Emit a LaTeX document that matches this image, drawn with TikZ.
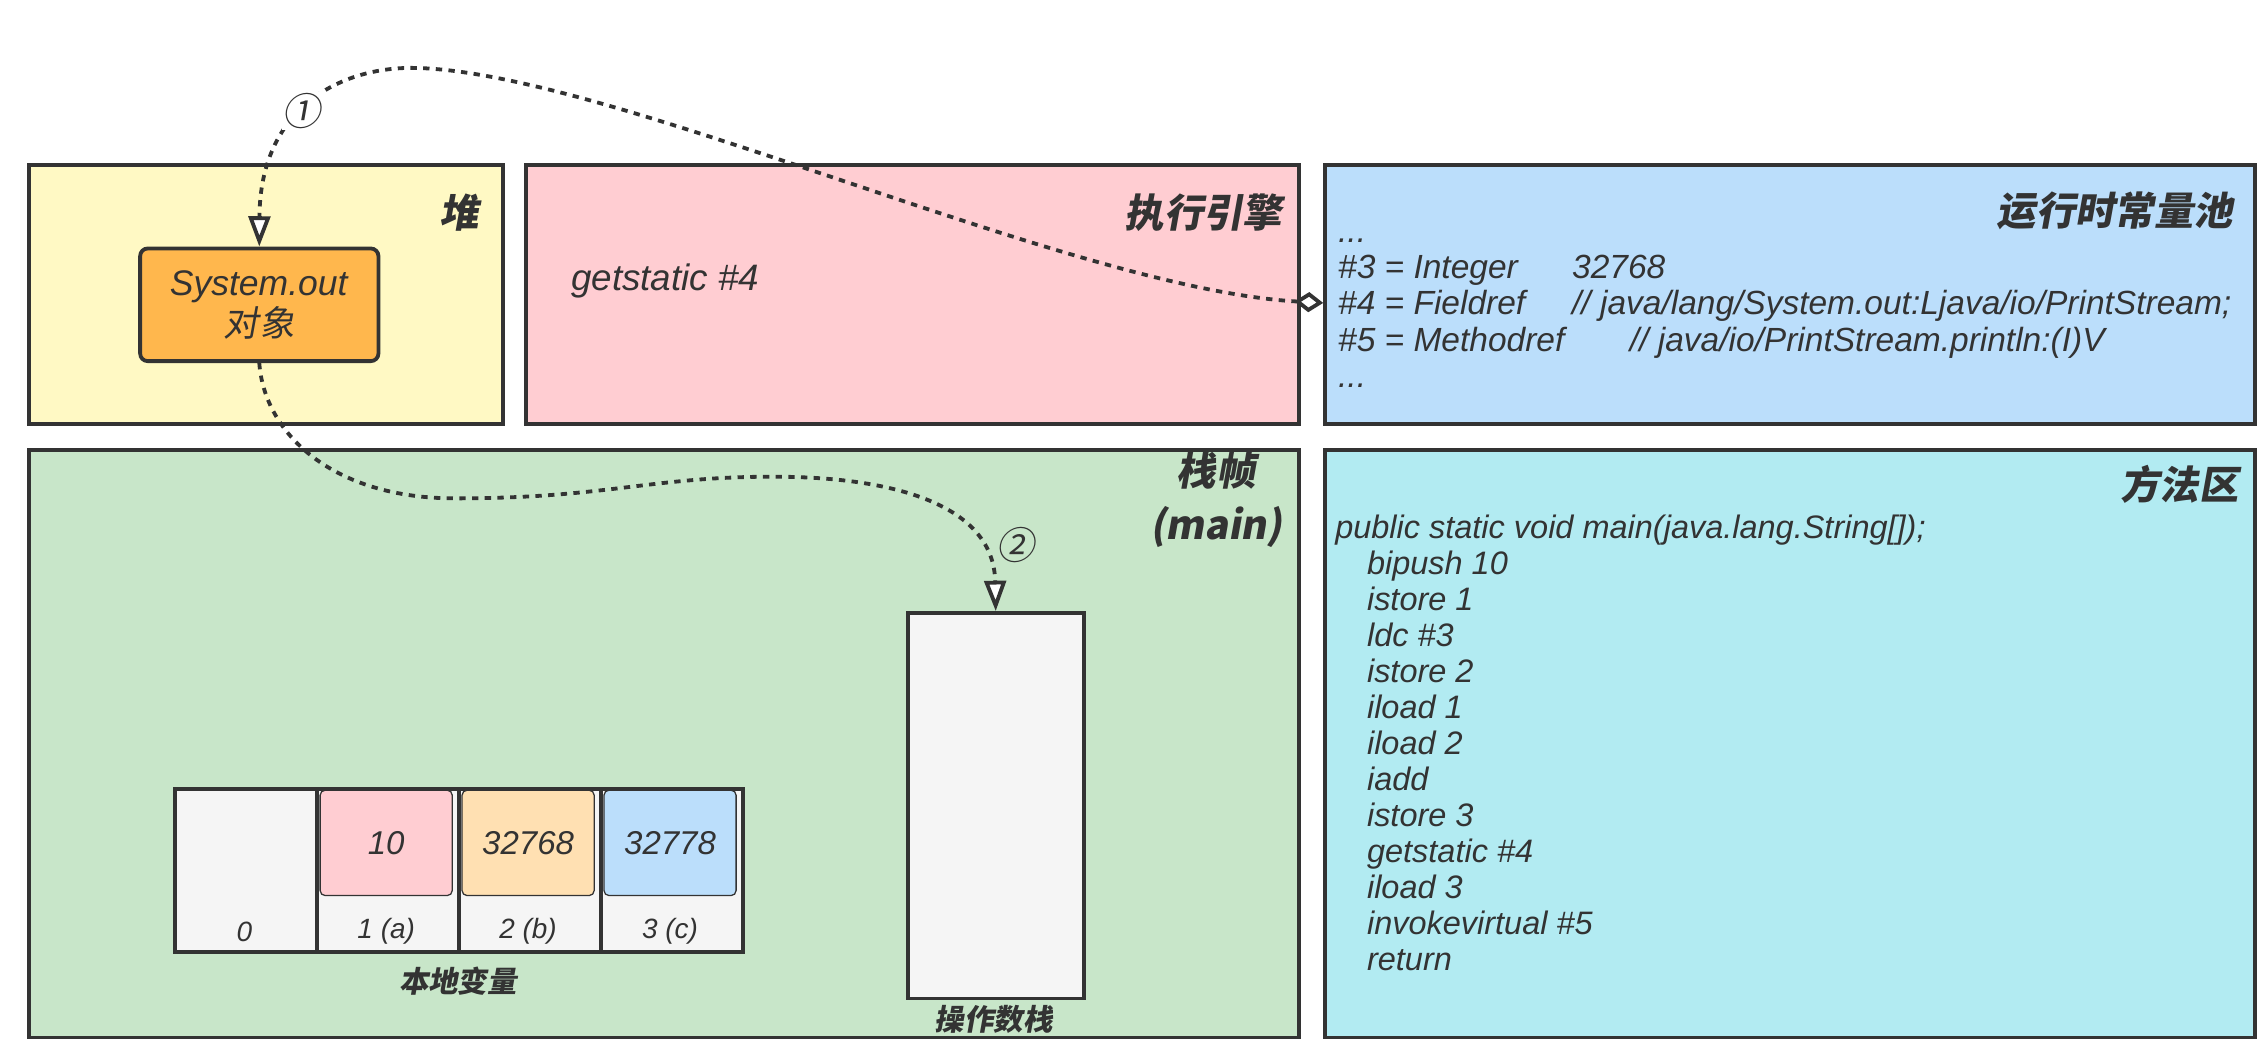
\documentclass[tikz,border=0pt]{standalone}
\usepackage{fontspec}
\setmainfont{Liberation Sans}
\newfontfamily\cjk[FakeSlant=0.18]{Noto Sans CJK SC}
\usetikzlibrary{arrows.meta}

\definecolor{linecol}{HTML}{333333}
\definecolor{heapcol}{HTML}{FFF9C4}
\definecolor{execcol}{HTML}{FFCDD2}
\definecolor{poolcol}{HTML}{BBDEFB}
\definecolor{framecol}{HTML}{C8E6C9}
\definecolor{methodcol}{HTML}{B2EBF2}
\definecolor{objcol}{HTML}{FFB74D}
\definecolor{valcol}{HTML}{FFE0B2}
\definecolor{cellcol}{HTML}{F5F5F5}

\tikzset{
    area/.style={draw=linecol, line width=1.5pt, anchor=north west, inner sep=0pt},
    title/.style={text=linecol, inner sep=0pt, anchor=east, font=\cjk\bfseries\fontsize{15.5}{21}\selectfont},
    code/.style={text=linecol, inner sep=0pt, anchor=base west, font=\itshape\fontsize{12.8}{14}\selectfont},
    pooltext/.style={code, font=\itshape\fontsize{13.2}{14}\selectfont},
    cell/.style={draw=linecol, line width=1.5pt, fill=cellcol, anchor=north west, minimum width=1.965cm, minimum height=2.26cm},
    valbox/.style={draw=linecol, line width=0.5pt, rounded corners=2pt, minimum width=1.83cm, minimum height=1.46cm, text=linecol, font=\itshape\fontsize{13}{14}\selectfont},
    idx/.style={text=linecol, inner sep=0pt, font=\itshape\fontsize{11}{12}\selectfont},
    sublabel/.style={text=linecol, inner sep=0pt, font=\cjk\bfseries\fontsize{11.6}{13}\selectfont},
    num/.style={text=linecol, inner sep=0.5pt, font=\cjk\fontsize{15}{16}\selectfont},
    flow/.style={draw=linecol, line width=1.5pt, dash pattern=on 2.5pt off 2.5pt},
    tip/.style={-{Triangle[length=0.42cm, width=0.3cm, fill=white]}}
}

\begin{document}
\begin{tikzpicture}[x=0.02cm, y=-0.02cm]
    \useasboundingbox (0,0) rectangle (1568,723);

    \node[area, fill=heapcol, minimum width=6.56cm, minimum height=3.58cm] (heap) at (19,113) {};
    \node[area, fill=execcol, minimum width=10.7cm, minimum height=3.58cm] (exec) at (363,113) {};
    \node[area, fill=poolcol, minimum width=12.88cm, minimum height=3.58cm] (pool) at (916,113) {};
    \node[area, fill=framecol, minimum width=17.58cm, minimum height=8.14cm] (frame) at (19,310) {};
    \node[area, fill=methodcol, minimum width=12.88cm, minimum height=8.14cm] (method) at (916,310) {};

    \node[title] (heapname) at (332,147) {堆};
    \node[title] (execname) at (888,147) {执行引擎};
    \node[title] (poolname) at (1546,146) {运行时常量池};
    \node[title] (methodname) at (1550,335) {方法区};
    \node[title, anchor=center, align=center] (framename) at (842,346) {栈帧\\(main)};

    \node[draw=linecol, line width=1.5pt, fill=objcol, rounded corners=3pt, minimum width=3.3cm, minimum height=1.56cm,
          align=center, text=linecol, font=\fontsize{14}{16.2}\selectfont] (sysout) at (179.5,211)
          {\textit{System.out}\\{\cjk 对象}};

    \node[code, font=\itshape\fontsize{14.5}{16}\selectfont] (getst) at (395,201) {getstatic \#4};

    \node[pooltext] (dots1) at (926,168) {...};
    \node[pooltext] (int3) at (926,193) {\#3 = Integer};
    \node[pooltext] (int3v) at (1088,193) {32768};
    \node[pooltext] (fref4) at (926,218) {\#4 = Fieldref};
    \node[pooltext] (fref4c) at (1088,218) {// java/lang/System.out:Ljava/io/PrintStream;};
    \node[pooltext] (mref5) at (926,243) {\#5 = Methodref};
    \node[pooltext] (mref5c) at (1128,243) {// java/io/PrintStream.println:(I)V};
    \node[pooltext] (dots2) at (926,268) {...};

    \node[code] (mainsig) at (924,373) {public static void main(java.lang.String[]);};
    \foreach \l [count=\n from 1] in {bipush 10, istore 1, ldc \#3, istore 2, iload 1, iload 2, iadd,
                                      istore 3, getstatic \#4, iload 3, invokevirtual \#5, return}{
        \node[code] (op\n) at (946,{373+24.9*\n}) {\l};
    }

    \node[cell] (var0) at (120,545) {};
    \node[idx] (idx0) at (169.1,645) {0};
    \foreach \i/\v/\c/\l in {1/10/execcol/1 (a), 2/32768/valcol/2 (b), 3/32778/poolcol/3 (c)}{
        \node[cell] (var\i) at ({120+98.25*\i},545) {};
        \node[valbox, fill=\c] (val\i) at ({169.1+98.25*\i},583.5) {\v};
        \node[idx] (idx\i) at ({169.1+98.25*\i},645) {\l};
    }
    \node[sublabel] (varname) at (317,679) {本地变量};

    \node[area, fill=cellcol, minimum width=2.44cm, minimum height=5.34cm] (opstack) at (627,423) {};
    \node[sublabel] (opname) at (688,706) {操作数栈};

    \draw[flow, {Diamond[length=0.4cm, width=0.28cm, fill=white]}-{Triangle[length=0.42cm, width=0.3cm, fill=white]}]
        (pool.west |- fref4) .. controls (740,200) and (420,48) .. (285,47)
        .. controls (235,47) and (180,75) .. (sysout.north);
    \node[num, fill=white] (n1) at (209,77) {①};

    \draw[flow, tip] (sysout.south) .. controls (183,300) and (230,345) .. (315,345)
        .. controls (420,345) and (450,330) .. (535,330)
        .. controls (620,330) and (688,350) .. (opstack.north);
    \node[num] (n2) at (703,377) {②};
\end{tikzpicture}
\end{document}
